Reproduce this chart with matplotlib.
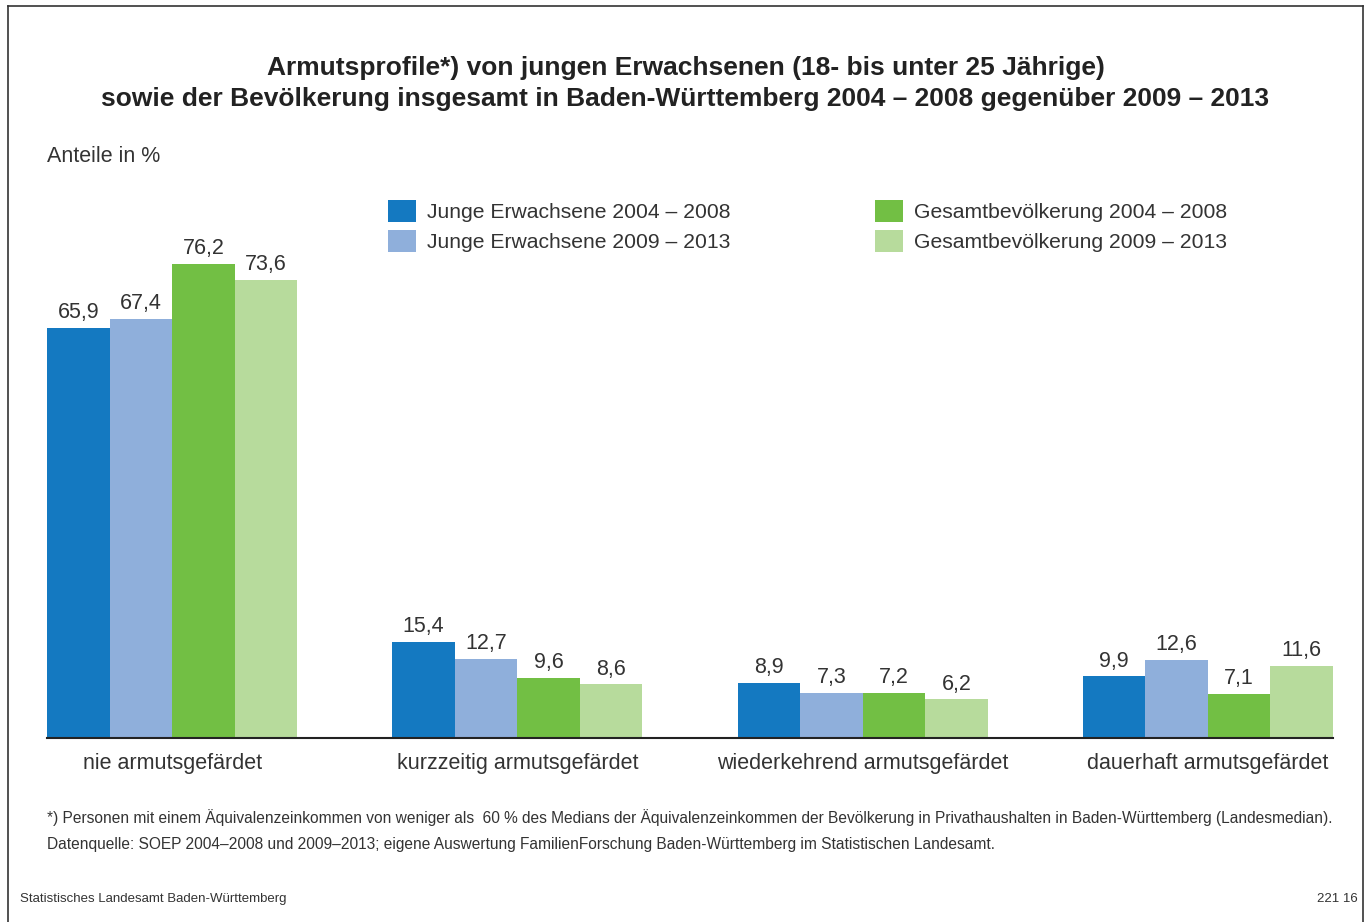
import numpy as np
import matplotlib
matplotlib.use('Agg')
import matplotlib.pyplot as plt
from matplotlib.patches import Patch
from matplotlib.lines import Line2D

# data
categories = ["nie armutsgefärdet", "kurzzeitig armutsgefärdet",
              "wiederkehrend armutsgefärdet", "dauerhaft armutsgefärdet"]
series_names = ["Junge Erwachsene 2004 – 2008", "Junge Erwachsene 2009 – 2013",
                "Gesamtbevölkerung 2004 – 2008", "Gesamtbevölkerung 2009 – 2013"]
junge_0408 = [65.9, 15.4, 8.9, 9.9]
junge_0913 = [67.4, 12.7, 7.3, 12.6]
gesamt_0408 = [76.2, 9.6, 7.2, 7.1]
gesamt_0913 = [73.6, 8.6, 6.2, 11.6]
colors = ["#1479c1", "#8fafdb", "#72bf44", "#b7db9c"]

plt.rcParams['font.family'] = ['Liberation Sans', 'DejaVu Sans']
text_col = "#333333"

W, H = 1371, 922
fig = plt.figure(figsize=(W / 100, H / 100), dpi=100)

# frame round the whole sheet
for xs, ys in [([8, 8], [0, 916]), ([8, 1363], [916, 916]), ([1363, 1363], [916, 0])]:
    fig.add_artist(Line2D([x / W for x in xs], [y / H for y in ys], color="#333333", lw=1.2))

ax = fig.add_axes([47 / W, (H - 738) / H, 1286 / W, 560 / H])
w = 62.5 / 345
x = np.arange(len(categories))
all_series = [junge_0408, junge_0913, gesamt_0408, gesamt_0913]
for i, vals in enumerate(all_series):
    b = ax.bar(x + (i - 1.5) * w, vals, width=w, color=colors[i], label=series_names[i])
    for rect, v in zip(b, vals):
        ax.annotate(f"{v:.1f}".replace(".", ","), (rect.get_x() + rect.get_width() / 2, v),
                    xytext=(0, 3.5), textcoords="offset points", ha="center", va="bottom",
                    fontsize=15.5, color=text_col)

ax.set_xlim(-2 * w, 3 + 2 * w)
ax.set_ylim(0, 90)
ax.set_yticks([])
ax.set_xticks(x)
ax.set_xticklabels(categories, fontsize=15.5, color=text_col)
ax.tick_params(axis="x", length=0, pad=11)
for s in ["top", "right", "left"]:
    ax.spines[s].set_visible(False)
ax.spines["bottom"].set_linewidth(1.5)
ax.spines["bottom"].set_color("#222222")

# title and subtitle
fig.text(0.5, 1 - 68 / H, "Armutsprofile*) von jungen Erwachsenen (18- bis unter 25 Jährige)",
         ha="center", va="center", fontsize=19, fontweight="bold", color="#222222")
fig.text(0.5, 1 - 99 / H, "sowie der Bevölkerung insgesamt in Baden-Württemberg 2004 – 2008 gegenüber 2009 – 2013",
         ha="center", va="center", fontsize=19, fontweight="bold", color="#222222")
fig.text(47 / W, 1 - 156 / H, "Anteile in %", ha="left", va="center", fontsize=15.5, color=text_col)

# legends, two columns
def make_legend(idx, x_px):
    handles = [Patch(facecolor=colors[i], edgecolor="none") for i in idx]
    labels = [series_names[i] for i in idx]
    leg = fig.legend(handles, labels, loc="upper left", bbox_to_anchor=(x_px / W, 1 - 200 / H),
                     frameon=False, fontsize=15.2, handlelength=1.33, handleheight=1.23,
                     handletextpad=0.52, labelspacing=0.36, borderaxespad=0, borderpad=0)
    for t in leg.get_texts():
        t.set_color(text_col)
    return leg

make_legend([0, 1], 388)
make_legend([2, 3], 875)

# footnotes
fig.text(47 / W, 1 - 818 / H,
         "*) Personen mit einem Äquivalenzeinkommen von weniger als  60 % des Medians der Äquivalenzeinkommen "
         "der Bevölkerung in Privathaushalten in Baden-Württemberg (Landesmedian).",
         ha="left", va="center", fontsize=11.2, color=text_col)
fig.text(47 / W, 1 - 844 / H,
         "Datenquelle: SOEP 2004–2008 und 2009–2013; eigene Auswertung FamilienForschung Baden-Württemberg "
         "im Statistischen Landesamt.",
         ha="left", va="center", fontsize=11.2, color=text_col)
fig.text(20 / W, 1 - 899 / H, "Statistisches Landesamt Baden-Württemberg",
         ha="left", va="center", fontsize=9.5, color=text_col)
fig.text(1358 / W, 1 - 899 / H, "221 16", ha="right", va="center", fontsize=9.5, color=text_col)

fig.savefig("out.png", dpi=100)
